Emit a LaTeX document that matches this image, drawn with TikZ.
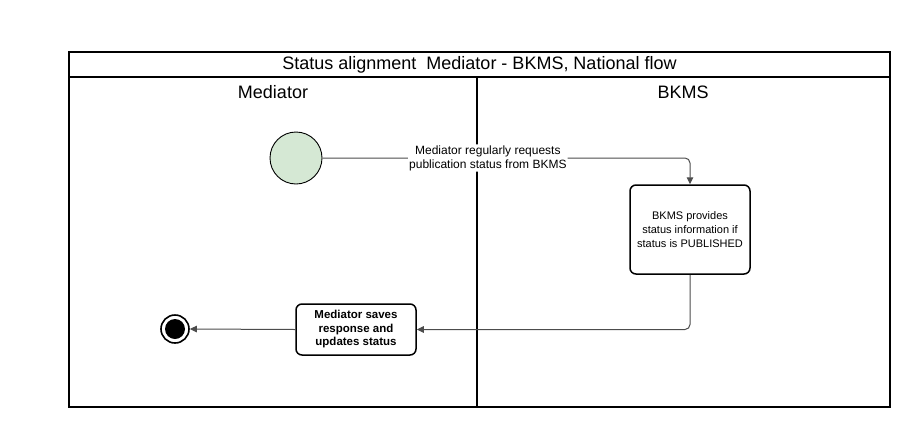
\documentclass[tikz,border=0pt]{standalone}
\usepackage{fontspec}
\setmainfont{Liberation Sans}
\usetikzlibrary{calc,arrows.meta,positioning}
\definecolor{startgreen}{HTML}{D5E8D4}

\begin{document}
\begin{tikzpicture}[x=1pt,y=-1pt,
  stepbox/.style={draw,line width=1.5pt,rounded corners=6pt,align=center,inner sep=0pt},
  flow/.style={draw=black!70,line width=1pt,rounded corners=5pt,-{Triangle[length=7pt,width=6.5pt]}}]
\useasboundingbox (0,0) rectangle (912,426);
% pool and lanes
\draw[line width=1.4pt] (69,52) rectangle (890,407);
\draw[line width=1.4pt] (69,77) -- (890,77);
\draw[line width=1.4pt] (477,77) -- (477,407);
\node (title) at (479.5,65) {\fontsize{18}{20}\selectfont Status alignment\ \ Mediator - BKMS, National flow};
\node (medlane) at (273,92) {\fontsize{18}{20}\selectfont Mediator};
\node (bkmslane) at (683,92) {\fontsize{18}{20}\selectfont BKMS};
% activities
\node[circle,draw,line width=0.9pt,fill=startgreen,minimum size=52pt,inner sep=0pt] (start) at (296,158) {};
\node[stepbox,minimum width=120pt,minimum height=89pt,font=\fontsize{11}{14}\selectfont] (provides) at (690,229.5)
  {BKMS provides\\status information if\\status is PUBLISHED};
\node[stepbox,minimum width=120pt,minimum height=51pt,font=\fontsize{11.5}{13.5}\selectfont\bfseries] (saves) at (356,329.5)
  {Mediator saves\\response and\\updates status};
\node[circle,draw,line width=1.6pt,fill=white,minimum size=28pt,inner sep=0pt] (end) at (175,329) {};
\node[circle,fill=black,minimum size=20pt,inner sep=0pt] (enddot) at (end) {};
% flows
\draw[flow] (start.east) -| (provides.north)
  node[pos=0.225,fill=white,align=center,inner sep=1pt,font=\fontsize{12}{14}\selectfont] (reqlabel)
  {Mediator regularly requests\\publication status from BKMS};
\draw[flow] (provides.south) |- (saves.east);
\draw[flow] (saves.west) -- (end.east);
\end{tikzpicture}
\end{document}
